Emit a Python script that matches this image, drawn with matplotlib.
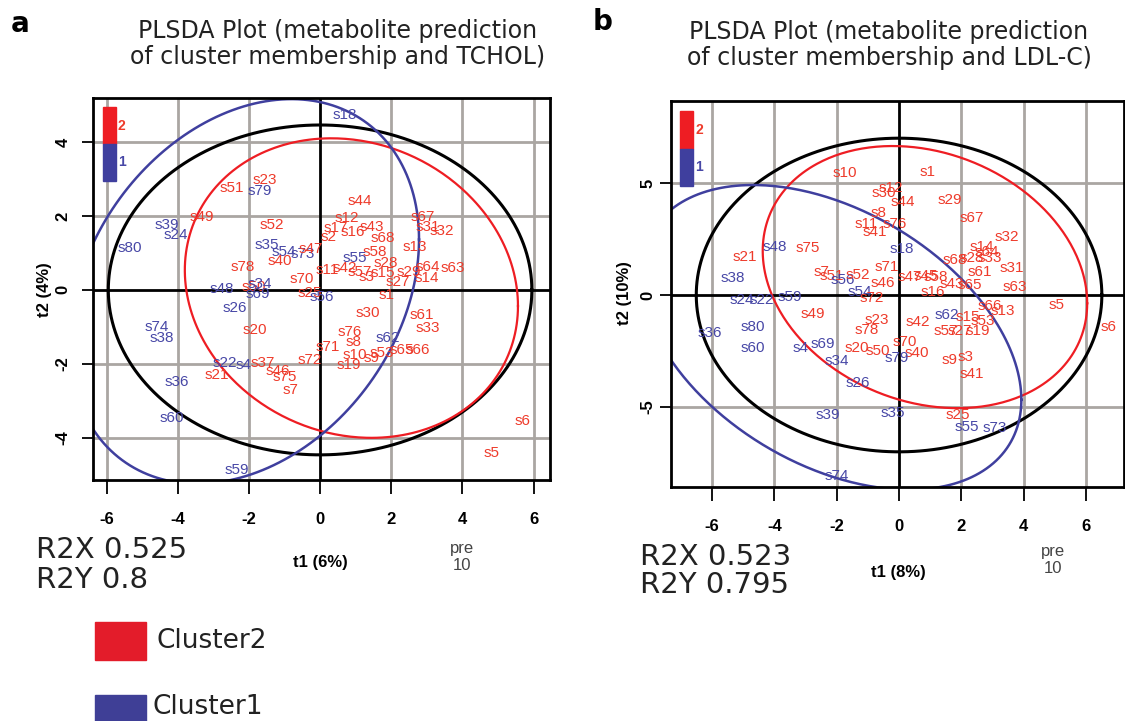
import numpy as np
import matplotlib
matplotlib.use("Agg")
import matplotlib.pyplot as plt
from matplotlib import font_manager
from matplotlib.patches import Rectangle

plt.rcParams["axes.unicode_minus"] = False

# ---- panel a: TCHOL ----
a_labels = ["s51", "s23", "s79", "s49", "s39", "s24", "s80", "s52", "s35", "s54", "s73", "s47",
            "s40", "s78", "s70", "s48", "s50", "s34", "s69", "s26", "s20", "s74", "s38", "s22",
            "s4", "s37", "s21", "s46", "s75", "s7", "s72", "s36", "s60", "s59", "s18", "s44",
            "s12", "s17", "s2", "s16", "s43", "s68", "s67", "s31", "s32", "s13", "s58", "s55",
            "s28", "s64", "s63", "s57", "s3", "s15", "s29", "s14", "s27", "s1", "s11", "s42",
            "s25", "s56", "s30", "s61", "s33", "s76", "s62", "s8", "s71", "s53", "s65", "s66",
            "s10", "s9", "s19", "s6", "s5"]
a_t1 = [-2.47, -1.54, -1.69, -3.31, -4.30, -4.04, -5.34, -1.35, -1.49, -1.01, -0.48, -0.25,
        -1.12, -2.16, -0.51, -2.75, -1.85, -1.69, -1.74, -2.39, -1.83, -4.58, -4.44, -2.67,
        -2.16, -1.60, -2.89, -1.18, -0.98, -0.84, -0.28, -4.02, -4.16, -2.33, 0.70, 1.12,
        0.76, 0.45, 0.25, 0.93, 1.46, 1.77, 2.89, 3.03, 3.43, 2.67, 1.54, 0.98,
        1.85, 3.03, 3.74, 1.12, 1.32, 1.77, 2.50, 3.01, 2.19, 1.88, 0.20, 0.70,
        -0.28, 0.06, 1.35, 2.87, 3.03, 0.84, 1.91, 0.93, 0.22, 1.74, 2.30, 2.75,
        0.98, 1.46, 0.81, 5.70, 4.83]
a_t2 = [2.76, 2.97, 2.68, 1.97, 1.76, 1.49, 1.14, 1.76, 1.22, 1.03, 0.97, 1.11,
        0.78, 0.62, 0.30, 0.03, 0.08, 0.16, -0.11, -0.49, -1.08, -1.00, -1.30, -1.97,
        -2.03, -1.97, -2.30, -2.19, -2.35, -2.70, -1.89, -2.49, -3.46, -4.86, 4.73, 2.41,
        1.95, 1.68, 1.43, 1.57, 1.70, 1.41, 1.97, 1.70, 1.59, 1.16, 1.03, 0.86,
        0.73, 0.62, 0.59, 0.49, 0.35, 0.46, 0.49, 0.32, 0.22, -0.14, 0.54, 0.59,
        -0.08, -0.19, -0.62, -0.68, -1.03, -1.14, -1.30, -1.41, -1.54, -1.70, -1.62, -1.62,
        -1.76, -1.84, -2.03, -3.54, -4.41]
a_group = [2, 2, 1, 2, 1, 1, 1, 2, 1, 1, 1, 2,
           2, 2, 2, 1, 2, 1, 1, 1, 2, 1, 1, 1,
           1, 2, 2, 2, 2, 2, 2, 1, 1, 1, 1, 2,
           2, 2, 2, 2, 2, 2, 2, 2, 2, 2, 2, 1,
           2, 2, 2, 2, 2, 2, 2, 2, 2, 2, 2, 2,
           2, 1, 2, 2, 2, 2, 1, 2, 2, 2, 2, 2,
           2, 2, 2, 2, 2]

# ---- panel b: LDL-C ----
b_labels = ["s10", "s21", "s48", "s75", "s38", "s7", "s51", "s56", "s52", "s71", "s46", "s54",
            "s72", "s18", "s8", "s76", "s41", "s11", "s12", "s30", "s44", "s1", "s29", "s67",
            "s32", "s14", "s64", "s68", "s28", "s33", "s61", "s31", "s63", "s47", "s45", "s58",
            "s16", "s43", "s65", "s5", "s6", "s66", "s13", "s62", "s15", "s42", "s53", "s19",
            "s57", "s27", "s70", "s40", "s79", "s9", "s3", "s41", "s25", "s55", "s73", "s35",
            "s24", "s22", "s59", "s49", "s80", "s36", "s60", "s4", "s69", "s34", "s26", "s39",
            "s74", "s20", "s23", "s78", "s50"]
b_t1 = [-1.73, -4.94, -3.97, -2.92, -5.32, -2.47, -2.15, -1.79, -1.31, -0.38, -0.51, -1.25,
        -0.87, 0.10, -0.67, -0.13, -0.77, -1.06, -0.26, -0.48, 0.13, 0.90, 1.63, 2.34,
        3.46, 2.66, 2.82, 1.79, 2.34, 2.92, 2.60, 3.62, 3.72, 0.35, 0.87, 1.19,
        1.09, 1.70, 2.28, 5.06, 6.70, 2.92, 3.33, 1.54, 2.21, 0.61, 2.69, 2.53,
        1.51, 1.96, 0.19, 0.58, -0.06, 1.63, 2.12, 2.34, 1.89, 2.18, 3.08, -0.19,
        -5.03, -4.39, -3.49, -2.76, -4.68, -6.06, -4.68, -3.17, -2.44, -1.99, -1.31, -2.28,
        -1.99, -1.35, -0.71, -1.03, -0.67]
b_t2 = [5.45, 1.70, 2.14, 2.10, 0.76, 1.03, 0.85, 0.67, 0.89, 1.25, 0.54, 0.13,
        -0.13, 2.05, 3.66, 3.17, 2.81, 3.17, 4.78, 4.55, 4.15, 5.49, 4.24, 3.44,
        2.59, 2.14, 1.92, 1.56, 1.65, 1.65, 1.03, 1.21, 0.36, 0.80, 0.85, 0.80,
        0.13, 0.49, 0.45, -0.45, -1.43, -0.49, -0.71, -0.89, -0.98, -1.21, -1.16, -1.61,
        -1.61, -1.61, -2.10, -2.59, -2.81, -2.90, -2.77, -3.53, -5.36, -5.89, -5.94, -5.27,
        -0.22, -0.22, -0.09, -0.85, -1.43, -1.70, -2.37, -2.37, -2.19, -2.95, -3.93, -5.36,
        -8.08, -2.37, -1.12, -1.56, -2.50]
b_group = [2, 2, 1, 2, 1, 2, 2, 1, 2, 2, 2, 1,
           2, 1, 2, 2, 2, 2, 2, 2, 2, 2, 2, 2,
           2, 2, 2, 2, 2, 2, 2, 2, 2, 2, 2, 2,
           2, 2, 2, 2, 2, 2, 2, 1, 2, 2, 2, 2,
           2, 2, 2, 2, 1, 2, 2, 2, 2, 1, 1, 1,
           1, 1, 1, 2, 1, 1, 1, 1, 1, 1, 1, 1,
           1, 2, 2, 2, 2]

# ellipses: overall (black), cluster2 (red), cluster1 (blue)
a_ell_cx = [0.0, 0.88, -2.13]
a_ell_cy = [0.0, 0.05, -0.04]
a_ell_sx = [5.95, 4.68, 4.91]
a_ell_sy = [4.46, 4.05, 5.2]
a_ell_r = [0.0, -0.12, 0.27]

b_ell_cx = [0.0, 0.83, -2.18]
b_ell_cy = [0.0, 0.8, -1.89]
b_ell_sx = [6.5, 5.2, 6.1]
b_ell_sy = [7.0, 5.85, 6.8]
b_ell_r = [0.0, -0.2, -0.41]

RED_TXT = "#ee3b2b"
BLUE_TXT = "#4747a6"
RED_LINE = "#ee1d23"
BLUE_LINE = "#3f3f9e"
GRID = "#aaa6a2"

names = {f.name for f in font_manager.fontManager.ttflist}
if "Liberation Sans Narrow" in names:
    lab_family, lab_size = "Liberation Sans Narrow", 12.5
else:
    lab_family, lab_size = "Liberation Sans", 11

W, H = 1125, 721
fig = plt.figure(figsize=(W / 100, H / 100), dpi=100)


def px(x, y):
    return x / W, 1 - y / H


def ellipse_xy(cx, cy, sx, sy, r):
    cov = np.array([[sx ** 2, r * sx * sy], [r * sx * sy, sy ** 2]])
    L = np.linalg.cholesky(cov)
    th = np.linspace(0, 2 * np.pi, 400)
    pts = L @ np.vstack([np.cos(th), np.sin(th)])
    return cx + pts[0], cy + pts[1]


def panel(rect, xlim, ylim, yticks, labels, t1, t2, group, ell, key_box, ypad):
    ax = fig.add_axes(rect)
    ax.set_xlim(*xlim)
    ax.set_ylim(*ylim)
    ax.set_xticks([-6, -4, -2, 0, 2, 4, 6])
    ax.set_yticks(yticks)
    for v in [-6, -4, -2, 2, 4, 6]:
        ax.axvline(v, color=GRID, lw=2.0, zorder=0)
    for v in yticks:
        if v != 0:
            ax.axhline(v, color=GRID, lw=2.0, zorder=0)
    ax.axvline(0, color="black", lw=2.0, zorder=1)
    ax.axhline(0, color="black", lw=2.0, zorder=1)

    cols = ["black", RED_LINE, BLUE_LINE]
    widths = [2.2, 1.6, 1.8]
    for i in range(3):
        ex, ey = ellipse_xy(ell[0][i], ell[1][i], ell[2][i], ell[3][i], ell[4][i])
        ax.plot(ex, ey, color=cols[i], lw=widths[i], zorder=2)

    for lab, x, y, g in zip(labels, t1, t2, group):
        ax.text(x, y, lab, color=RED_TXT if g == 2 else BLUE_TXT, ha="center", va="center",
                fontsize=lab_size, family=lab_family, zorder=3)

    # colour key in the corner
    x0, x1, ymid, ytop, ybot = key_box
    ax.add_patch(Rectangle((x0, ymid), x1 - x0, ytop - ymid, transform=ax.transAxes,
                           color=RED_LINE, zorder=4))
    ax.add_patch(Rectangle((x0, ybot), x1 - x0, ymid - ybot, transform=ax.transAxes,
                           color=BLUE_LINE, zorder=4))
    ax.text(x1 + 0.004, (ymid + ytop) / 2, "2", transform=ax.transAxes, color=RED_TXT,
            fontsize=10, fontweight="bold", family="Liberation Sans", ha="left", va="center")
    ax.text(x1 + 0.004, (ymid + ybot) / 2, "1", transform=ax.transAxes, color=BLUE_TXT,
            fontsize=10, fontweight="bold", family="Liberation Sans", ha="left", va="center")

    for s in ax.spines.values():
        s.set_linewidth(2.0)
    ax.tick_params(axis="x", length=10, width=1.3, pad=13, labelsize=12)
    ax.tick_params(axis="y", length=8, width=1.3, pad=ypad, labelsize=12)
    for t in ax.get_xticklabels() + ax.get_yticklabels():
        t.set_fontweight("bold")
        t.set_family("Liberation Sans")
    for t in ax.get_yticklabels():
        t.set_rotation(90)
        t.set_va("center")
    return ax


panel([93 / W, 1 - 480 / H, 457 / W, 382 / H], (-6.38, 6.46), (-5.14, 5.19), [-4, -2, 0, 2, 4],
      a_labels, a_t1, a_t2, a_group,
      (a_ell_cx, a_ell_cy, a_ell_sx, a_ell_sy, a_ell_r),
      (0.022, 0.050, 0.880, 0.976, 0.783), 8)

panel([671 / W, 1 - 487 / H, 453 / W, 386 / H], (-7.31, 7.21), (-8.57, 8.66), [-5, 0, 5],
      b_labels, b_t1, b_t2, b_group,
      (b_ell_cx, b_ell_cy, b_ell_sx, b_ell_sy, b_ell_r),
      (0.020, 0.049, 0.876, 0.974, 0.780), 3)

# panel letters and titles
fig.text(*px(20, 24), "a", fontsize=20, fontweight="bold", family="DejaVu Sans", ha="center", va="center")
fig.text(*px(603, 22), "b", fontsize=20, fontweight="bold", family="DejaVu Sans", ha="center", va="center")
fig.text(*px(338, 44), "PLSDA Plot (metabolite prediction\nof cluster membership and TCHOL)",
         fontsize=17, family="DejaVu Sans", ha="center", va="center", linespacing=1.1, color="#222222")
fig.text(*px(889, 45), "PLSDA Plot (metabolite prediction\nof cluster membership and LDL-C)",
         fontsize=17, family="DejaVu Sans", ha="center", va="center", linespacing=1.1, color="#222222")

# axis labels
fig.text(*px(320, 563), "t1 (6%)", fontsize=12, fontweight="bold", family="Liberation Sans", ha="center", va="center")
fig.text(*px(898, 573), "t1 (8%)", fontsize=12, fontweight="bold", family="Liberation Sans", ha="center", va="center")
fig.text(*px(45, 290), "t2 (4%)", fontsize=12, fontweight="bold", family="Liberation Sans", ha="center",
         va="center", rotation=90)
fig.text(*px(625, 293), "t2 (10%)", fontsize=12, fontweight="bold", family="Liberation Sans", ha="center",
         va="center", rotation=90)
fig.text(*px(462, 557), "pre\n10", fontsize=12, family="Liberation Sans", ha="center", va="center",
         color="#444444", linespacing=1.1)
fig.text(*px(1053, 560), "pre\n10", fontsize=12, family="Liberation Sans", ha="center", va="center",
         color="#444444", linespacing=1.1)

# model fit stats
fig.text(*px(36, 550), "R2X 0.525", fontsize=21, family="DejaVu Sans", ha="left", va="center", color="#222222")
fig.text(*px(36, 580), "R2Y 0.8", fontsize=21, family="DejaVu Sans", ha="left", va="center", color="#222222")
fig.text(*px(640, 557), "R2X 0.523", fontsize=21, family="DejaVu Sans", ha="left", va="center", color="#222222")
fig.text(*px(640, 585), "R2Y 0.795", fontsize=21, family="DejaVu Sans", ha="left", va="center", color="#222222")

# legend
fig.patches.append(Rectangle(px(95, 660), 51 / W, 38 / H, transform=fig.transFigure, color="#e31c2a"))
fig.patches.append(Rectangle(px(95, 730), 51 / W, 35 / H, transform=fig.transFigure, color="#3f3f96"))
fig.text(*px(157, 641), "Cluster2", fontsize=19, family="DejaVu Sans", ha="left", va="center", color="#222222")
fig.text(*px(153, 707), "Cluster1", fontsize=19, family="DejaVu Sans", ha="left", va="center", color="#222222")

fig.savefig("out.png", dpi=100)
